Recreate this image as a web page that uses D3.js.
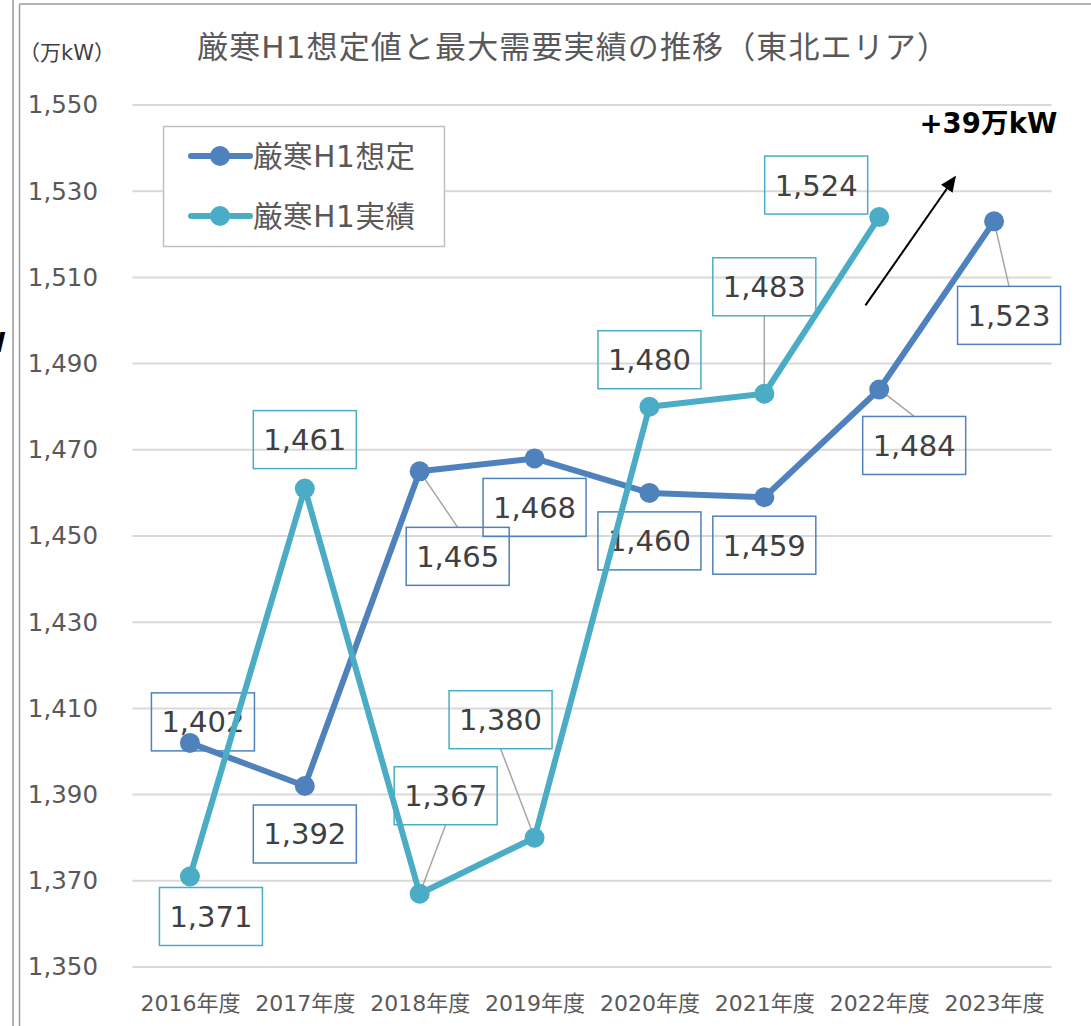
<!DOCTYPE html>
<html>
<head>
<meta charset="utf-8">
<script src="https://cdn.jsdelivr.net/npm/d3@7"></script>
<style>
  body { margin: 0; background: #fff; }
  svg { display: block; font-family: "DejaVu Sans", "Noto Sans CJK JP", sans-serif; }
</style>
</head>
<body>
<div class="lineChart"></div>
<script>
// data
const years = ['2016年度', '2017年度', '2018年度', '2019年度', '2020年度', '2021年度', '2022年度', '2023年度'];
const planValues = [1402, 1392, 1465, 1468, 1460, 1459, 1484, 1523];
const actualValues = [1371, 1461, 1367, 1380, 1480, 1483, 1524, null];
const yTicks = [1350, 1370, 1390, 1410, 1430, 1450, 1470, 1490, 1510, 1530, 1550];
const seriesNames = ['厳寒H1想定', '厳寒H1実績'];

// label box offsets (px, centre of box relative to point) - layout only
const planLabelOffsets = [[13, -21], [0, 48], [38, 85], [0, 49], [0, 48], [0, 48], [35, 56], [15, 94]];
const actualLabelOffsets = [[21, 40], [0, -49], [26, -98], [-34, -118], [0, -47], [0, -107], [-63, -32], null];
const leaderPlan = [false, false, true, false, false, false, true, true];
const leaderActual = [false, false, true, true, false, true, false, false];

const colors = ['#4f81bd', '#4bacc6'];

function drawLineChart() {
    let svg = d3.select('.lineChart')
        .append('svg')
        .attr('width', 1091)
        .attr('height', 1026);

    // frame lines at the left / top
    svg.append('line').attr('x1', 13).attr('x2', 13).attr('y1', 0).attr('y2', 1026)
        .attr('stroke', '#9a9a9a').attr('stroke-width', 1.5);
    svg.append('line').attr('x1', 19.5).attr('x2', 19.5).attr('y1', 4).attr('y2', 1026)
        .attr('stroke', '#9a9a9a').attr('stroke-width', 1.5);
    svg.append('line').attr('x1', 19.5).attr('x2', 1091).attr('y1', 4).attr('y2', 4)
        .attr('stroke', '#9a9a9a').attr('stroke-width', 1.5);
    // cut-off text from a neighbouring element
    svg.append('text').attr('x', 6).attr('y', 352)
        .attr('text-anchor', 'end')
        .style('font-size', '27px').style('font-weight', 'bold')
        .text('kW');

    let x = d3.scalePoint().domain(years).range([132.5, 1051.5]).padding(0.5);
    let y = d3.scaleLinear().domain([1350, 1550]).range([967, 105]);
    let xi = d3.scaleLinear().domain([0, 7]).range([x(years[0]), x(years[7])]);

    // gridlines
    svg.append('g')
        .selectAll('line')
        .data(yTicks)
        .enter().append('line')
        .attr('x1', 132.5).attr('x2', 1051.5)
        .attr('y1', d => y(d)).attr('y2', d => y(d))
        .attr('stroke', '#d9d9d9')
        .attr('stroke-width', 2);

    // y axis labels
    let yAxis = svg.append('g')
        .attr('transform', 'translate(98,0)')
        .call(d3.axisLeft(y).tickValues(yTicks).tickSize(0).tickPadding(0).tickFormat(d3.format(',')));
    yAxis.select('.domain').remove();
    yAxis.selectAll('text')
        .attr('fill', '#595959')
        .style('font-size', '24.5px')
        .style('font-family', '"DejaVu Sans", sans-serif');

    // x axis labels
    let xAxis = svg.append('g')
        .attr('transform', 'translate(0,1003)')
        .call(d3.axisBottom(x).tickSize(0).tickPadding(0));
    xAxis.select('.domain').remove();
    xAxis.selectAll('text')
        .attr('fill', '#595959')
        .attr('dy', '0.35em')
        .style('font-size', '22px')
        .style('font-family', '"DejaVu Sans", "Noto Sans CJK JP", sans-serif');

    // title and unit
    svg.append('text')
        .attr('x', 197).attr('y', 58)
        .attr('fill', '#595959')
        .attr('textLength', 751)
        .attr('lengthAdjust', 'spacing')
        .style('font-size', '31px')
        .text('厳寒H1想定値と最大需要実績の推移（東北エリア）');
    svg.append('text')
        .attr('x', 19).attr('y', 60)
        .attr('fill', '#404040')
        .style('font-size', '21px')
        .text('（万kW）');

    // data labels (drawn first, lines go over them)
    function drawLabels(values, offsets, leaders, color) {
        let g = svg.append('g');
        values.forEach((v, i) => {
            if (v === null) return;
            let px = x(years[i]), py = y(v);
            let cx = px + offsets[i][0], cy = py + offsets[i][1];
            let w = 103, h = 58;
            if (leaders[i]) {
                let ey = offsets[i][1] > 0 ? cy - h / 2 : cy + h / 2;
                g.append('line')
                    .attr('x1', px).attr('y1', py)
                    .attr('x2', cx).attr('y2', ey)
                    .attr('stroke', '#a6a6a6')
                    .attr('stroke-width', 1.5);
            }
            g.append('rect')
                .attr('x', cx - w / 2).attr('y', cy - h / 2)
                .attr('width', w).attr('height', h)
                .attr('fill', 'none')
                .attr('stroke', color)
                .attr('stroke-width', 1.5);
            g.append('text')
                .attr('x', cx).attr('y', cy)
                .attr('dy', '0.36em')
                .attr('text-anchor', 'middle')
                .attr('fill', '#404040')
                .style('font-size', '29px')
                .text(d3.format(',')(v));
        });
    }
    drawLabels(planValues, planLabelOffsets, leaderPlan, colors[0]);
    drawLabels(actualValues, actualLabelOffsets, leaderActual, colors[1]);

    // lines and markers
    let line = d3.line()
        .defined(d => d.v !== null)
        .x(d => x(d.year))
        .y(d => y(d.v));
    [planValues, actualValues].forEach((vals, s) => {
        let pts = vals.map((v, i) => ({year: years[i], v: v}));
        svg.append('path')
            .datum(pts)
            .attr('fill', 'none')
            .attr('stroke', colors[s])
            .attr('stroke-width', 6)
            .attr('stroke-linejoin', 'round')
            .attr('d', line);
        svg.append('g')
            .selectAll('circle')
            .data(pts.filter(d => d.v !== null))
            .enter().append('circle')
            .attr('cx', d => x(d.year))
            .attr('cy', d => y(d.v))
            .attr('r', 10)
            .attr('fill', colors[s]);
    });

    // legend
    let legend = svg.append('g');
    legend.append('rect')
        .attr('x', 163.5).attr('y', 126.5)
        .attr('width', 281).attr('height', 120)
        .attr('fill', '#fff')
        .attr('stroke', '#bfbfbf')
        .attr('stroke-width', 1.5);
    seriesNames.forEach((name, i) => {
        let ly = 156 + i * 60;
        legend.append('line')
            .attr('x1', 191).attr('x2', 250)
            .attr('y1', ly).attr('y2', ly)
            .attr('stroke', colors[i])
            .attr('stroke-width', 6)
            .attr('stroke-linecap', 'round');
        legend.append('circle')
            .attr('cx', 220).attr('cy', ly).attr('r', 10)
            .attr('fill', colors[i]);
        legend.append('text')
            .attr('x', 253).attr('y', ly)
            .attr('dy', '0.36em')
            .attr('fill', '#595959')
            .attr('textLength', 162)
            .attr('lengthAdjust', 'spacing')
            .style('font-size', '29.5px')
            .text(name);
    });

    // growth annotation
    svg.append('defs').append('marker')
        .attr('id', 'arrowHead')
        .attr('viewBox', '0 0 10 10')
        .attr('refX', 9).attr('refY', 5)
        .attr('markerWidth', 16).attr('markerHeight', 14)
        .attr('markerUnits', 'userSpaceOnUse')
        .attr('orient', 'auto')
        .attr('preserveAspectRatio', 'none')
        .append('path')
        .attr('d', 'M0,0 L10,5 L0,10 Z')
        .attr('fill', '#000');
    svg.append('line')
        .attr('x1', xi(5.88)).attr('y1', y(1503.5))
        .attr('x2', xi(6.66)).attr('y2', y(1533.3))
        .attr('stroke', '#000')
        .attr('stroke-width', 2)
        .attr('marker-end', 'url(#arrowHead)');
    svg.append('text')
        .attr('x', xi(6.35)).attr('y', y(1543.5))
        .attr('fill', '#000')
        .attr('textLength', 138)
        .attr('lengthAdjust', 'spacing')
        .style('font-size', '27.5px')
        .style('font-weight', 'bold')
        .text('+39万kW');
}

drawLineChart();
</script>
</body>
</html>
